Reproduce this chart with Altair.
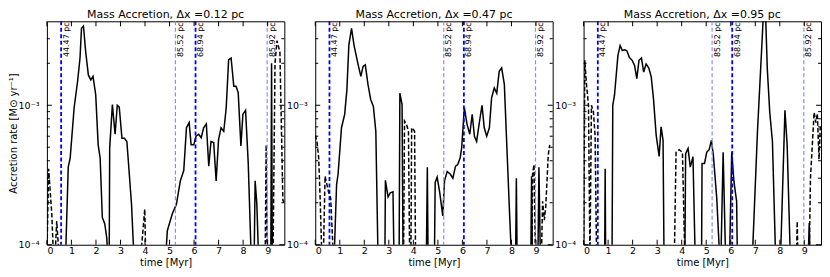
import altair as alt
import pandas as pd

L = 8e-5  # below the plotted range (line leaves the axes)

# ---------------- panel 1 : dx = 0.12 pc ----------------
p1_solid_t = [0.0, 0.76, 0.87, 0.95, 1.11, 1.25, 1.35, 1.41, 1.49, 1.58, 1.69, 1.79, 1.88, 1.99, 2.09, 2.17,
              2.26, 2.36, 2.44, 2.49, 2.54, 2.56, 2.67, 2.78, 2.87, 2.95, 3.06, 3.16, 3.26, 3.36, 3.45, 3.55,
              4.84, 4.91, 5.11, 5.28, 5.44, 5.58, 5.69, 5.80, 5.88, 5.99, 6.08, 6.19, 6.29, 6.39, 6.50, 6.60,
              6.69, 6.80, 6.90, 7.00, 7.10, 7.21, 7.31, 7.41, 7.51, 7.62, 7.71, 7.80, 7.91, 7.99, 8.10, 8.21,
              8.33, 8.45, 8.49, 8.56, 8.63, 9.13, 9.16, 9.19, 9.68]
p1_solid_v = [L, L, 3.6e-4, 4.2e-4, 9.6e-4, 1.48e-3, 2.18e-3, 3.56e-3, 3.7e-3, 2.43e-3, 1.65e-3, 1.52e-3,
              1.61e-3, 1.19e-3, 5.2e-4, 4.2e-4, 1.57e-4, 1.41e-4, 1.12e-4, L, L, 4.95e-4, 1.01e-3, 6.2e-4,
              1.0e-3, 9.7e-4, 5.8e-4, 5.8e-4, 5.5e-4, 3.2e-4, 1.95e-4, L,
              L, 1.26e-4, 1.66e-4, 1.95e-4, 2.87e-4, 3.4e-4, 6.9e-4, 7.5e-4, 5.2e-4, 5.2e-4, 6.0e-4, 6.2e-4,
              5.85e-4, 6.9e-4, 7.35e-4, 3.66e-4, 5.5e-4, 5.4e-4, 2.87e-4, 5.7e-4, 6.9e-4, 6.5e-4, 9.56e-4,
              2.12e-3, 2.18e-3, 1.37e-3, 1.37e-3, 1.23e-3, 5.1e-4, 8.6e-4, 9.2e-4, 3.8e-4,
              L, L, 2.87e-4, 1.95e-4, L, L, 2.0e-3, L, L]
p1_dash_t = [0.0, 0.07, 0.20, 0.27, 0.33, 0.40, 0.50, 3.82, 3.99, 4.03, 8.90, 8.94, 8.98, 9.22, 9.30, 9.38,
             9.45, 9.50, 9.62, 9.66]
p1_dash_v = [L, 3.5e-4, 1.65e-4, L, L, 1.48e-4, L, L, 1.8e-4, L, L, 5.2e-4, L, L, 2.0e-3, 2.9e-3,
             2.6e-3, 2.4e-3, 2.1e-4, 2.0e-4]

# ---------------- panel 2 : dx = 0.47 pc ----------------
p2_solid_t = [0.0, 0.77, 0.87, 0.93, 1.07, 1.20, 1.29, 1.37, 1.48, 1.58, 1.75, 1.86, 1.95, 2.04, 2.15, 2.26,
              2.37, 2.47, 2.56, 2.84, 2.86, 2.97, 3.06, 3.17, 3.21, 3.42, 3.45, 3.54, 3.58, 4.53, 4.57, 4.60,
              4.86, 4.89, 4.97, 5.07, 5.20, 5.27, 5.38, 5.51, 5.61, 5.72, 5.81, 5.91, 5.97, 6.08, 6.19, 6.30,
              6.40, 6.49, 6.58, 6.69, 6.80, 6.89, 6.99, 7.10, 7.19, 7.30, 7.40, 7.50, 7.60, 7.71, 7.82, 7.93,
              8.00, 8.17, 8.20, 8.23, 8.79, 8.82, 8.85, 9.08, 9.12, 9.18, 9.68]
p2_solid_v = [L, L, 2.7e-4, 3.2e-4, 6.9e-4, 8.6e-4, 1.29e-3, 2.7e-3, 3.56e-3, 2.7e-3, 1.95e-3, 1.61e-3,
              1.9e-3, 1.95e-3, 1.41e-3, 1.1e-3, 9.8e-4, 6.5e-4, L, L, 2.9e-4, 2.2e-4, 2.36e-4, 2.4e-4, L,
              L, 1.22e-3, 1.01e-3, L, L, 3.6e-4, L,
              L, 2.8e-4, 3.05e-4, 2.4e-4, 1.61e-4, 2.87e-4, 3.35e-4, 3.2e-4, 3.0e-4, 3.66e-4, 3.76e-4,
              4.2e-4, 4.95e-4, 9.6e-4, 7.3e-4, 6.2e-4, 8.6e-4, 6.0e-4, 5.5e-4, 7.5e-4, 1.0e-3, 6.9e-4,
              6.0e-4, 6.9e-4, 1.13e-3, 1.33e-3, 1.22e-3, 1.75e-3, 1.85e-3, 1.41e-3, 4.7e-4, 1.57e-4,
              L, L, 3.0e-4, L, L, 3.1e-4, L, L, 3.6e-4, L, L]
p2_dash_t = [0.0, 0.07, 0.14, 0.20, 0.27, 0.33, 0.40, 0.54, 0.63, 0.74, 3.60, 3.64, 3.72, 3.80, 3.85, 3.90,
             3.93, 4.00, 4.05, 4.09, 8.84, 8.86, 8.92, 8.98, 9.22, 9.27, 9.34, 9.40, 9.50, 9.56]
p2_dash_v = [6.1e-4, 5.5e-4, 4.2e-4, 2.15e-4, L, L, 3.1e-4, 2.4e-4, 2.15e-4, L, L, 7.7e-4, 7.3e-4, 6.5e-4,
             L, L, 6.9e-4, 6.7e-4, 6.5e-4, L, L, 3.2e-4, 3.76e-4, L, L, 2.05e-4, 1.5e-4, 1.9e-4,
             4.4e-4, 5.2e-4]

# ---------------- panel 3 : dx = 0.95 pc ----------------
p3_solid_t = [0.0, 0.86, 0.88, 0.90, 1.16, 1.19, 1.26, 1.40, 1.49, 1.58, 1.67, 1.76, 1.87, 1.98, 2.08, 2.17,
              2.26, 2.36, 2.45, 2.55, 2.66, 2.76, 2.85, 2.96, 3.08, 3.16, 3.24, 3.28, 4.13, 4.16, 4.26, 4.35,
              4.46, 4.55, 4.81, 4.83, 4.93, 5.02, 5.12, 5.21, 5.29, 5.43, 5.55, 5.60, 5.69, 5.79, 5.95, 6.04,
              6.13, 6.24, 6.27, 6.88, 7.09, 7.15, 7.29, 7.35, 7.42, 7.49, 7.59, 7.70, 7.83, 8.03, 8.21, 8.30,
              8.43, 9.16, 9.20, 9.23, 9.70]
p3_solid_v = [L, L, 3.5e-4, L, L, 1.0e-3, 1.18e-3, 2.28e-3, 2.68e-3, 2.47e-3, 2.5e-3, 2.47e-3, 2.2e-3,
              2.1e-3, 1.93e-3, 1.55e-3, 2.1e-3, 2.18e-3, 1.73e-3, 1.98e-3, 1.85e-3, 1.59e-3, 1.11e-3,
              6.1e-4, 4.3e-4, 7.0e-4, 5.6e-4, L, L, 4.5e-4, 4.9e-4, 3.6e-4,
              4.27e-4, L, L, 3.83e-4, 3.83e-4, 4.6e-4, 4.8e-4, 5.6e-4, 4.4e-4, 2.15e-4, L, L, 4.6e-4, L,
              L, 4.6e-4, 2.83e-4, 2.05e-4, L, L, 6.5e-4, 1.05e-3, 3.2e-3, 5.5e-3, 4.5e-3, 1.83e-3,
              8.9e-4, 5.5e-4, L, L, 9.2e-4, 5.2e-4, L, L, 1.43e-4, L, L]
p3_dash_t = [0.0, 0.05, 0.12, 0.20, 0.26, 0.32, 0.40, 0.47, 0.53, 3.70, 3.77, 3.90, 4.03, 4.13, 8.68, 8.71,
             8.74, 9.20, 9.25, 9.40, 9.47, 9.53, 9.60, 9.65]
p3_dash_v = [L, 2.1e-3, 1.4e-3, 1.0e-3, L, 1.0e-3, 9e-4, 6e-4, L, L, 4.6e-4, 4.8e-4, 4.6e-4, L, L, 1.47e-4,
             L, L, 3.0e-4, 8.9e-4, 7.5e-4, 8.7e-4, 4.1e-4, 7.0e-4]

# ---------------- reference radii (vertical dashed lines) ----------------
mark_t = [0.58, 5.24, 6.06, 8.98]
mark_label = ["44.47 pc", "85.52 pc", "68.94 pc", "85.92 pc"]
mark_kind = ["dark", "light", "dark", "light"]

titles = ["Mass Accretion, \u0394x =0.12 pc", "Mass Accretion, \u0394x =0.47 pc", "Mass Accretion, \u0394x =0.95 pc"]

x_major = list(range(10))
y_major = [1e-4, 1e-3]
y_minor = [2e-4, 3e-4, 4e-4, 5e-4, 6e-4, 7e-4, 8e-4, 9e-4, 2e-3, 3e-3]

W, H = 238, 224
FONT = "DejaVu Sans"
xscale = alt.Scale(domain=[0, 9.68], nice=False, zero=False)
yscale = alt.Scale(type="log", domain=[1e-4, 4e-3], nice=False)


def panel(title, st, sv, dt, dv, ytitle):
    solid = pd.DataFrame({"t": st, "v": sv})
    dashed = pd.DataFrame({"t": dt, "v": dv})
    marks = pd.DataFrame({"t": mark_t, "label": mark_label, "kind": mark_kind})
    xt = pd.DataFrame({"t": x_major})
    ymaj = pd.DataFrame({"v": y_major})
    ymin = pd.DataFrame({"v": y_minor})

    yaxis_kw = dict(values=y_major, labelExpr="datum.value < 5e-4 ? '10\u207b\u2074' : '10\u207b\u00b3'",
                    ticks=False, grid=False, domain=False, labelPadding=8)
    if ytitle:
        yaxis = alt.Axis(title="Accretion rate [M\u2299 yr\u207b\u00b9]", titleX=-28,
                         titleBaseline="bottom", titleAngle=270, **yaxis_kw)
    else:
        yaxis = alt.Axis(title=None, **yaxis_kw)
    xaxis = alt.Axis(values=x_major, ticks=False, grid=False, domain=False, labelPadding=1,
                     title="time [Myr]", titlePadding=2, format="d")

    X = alt.X("t:Q", scale=xscale, axis=xaxis)
    Y = alt.Y("v:Q", scale=yscale, axis=yaxis)

    solid_line = alt.Chart(solid).mark_line(color="black", strokeWidth=1.5, clip=True).encode(
        x=X, y=Y, order="t:Q")
    dashed_line = alt.Chart(dashed).mark_line(color="black", strokeWidth=1.5, strokeDash=[4.5, 2.2],
                                               clip=True).encode(x=X, y=Y, order="t:Q")
    vlines = alt.Chart(marks).mark_rule(strokeDash=[4, 2.5]).encode(
        x=X,
        color=alt.Color("kind:N", scale=alt.Scale(domain=["dark", "light"], range=["#0000ff", "#8a8aff"]),
                        legend=None),
        strokeWidth=alt.StrokeWidth("kind:N", scale=alt.Scale(domain=["dark", "light"], range=[1.8, 1.2]),
                                    legend=None),
    )
    vlabels = alt.Chart(marks).mark_text(angle=270, align="right", baseline="top", fontSize=8, font=FONT,
                                         color="black", dy=1.5).encode(
        x=X, y=alt.value(1), text="label:N")
    xt_bot = alt.Chart(xt).mark_rule(color="black", strokeWidth=1).encode(
        x=X, y=alt.value(H), y2=alt.value(H - 5))
    xt_top = alt.Chart(xt).mark_rule(color="black", strokeWidth=1).encode(
        x=X, y=alt.value(0), y2=alt.value(5))
    ymaj_l = alt.Chart(ymaj).mark_rule(color="black", strokeWidth=1).encode(
        y=Y, x=alt.value(0), x2=alt.value(5))
    ymaj_r = alt.Chart(ymaj).mark_rule(color="black", strokeWidth=1).encode(
        y=Y, x=alt.value(W), x2=alt.value(W - 5))
    ymin_l = alt.Chart(ymin).mark_rule(color="black", strokeWidth=1).encode(
        y=Y, x=alt.value(0), x2=alt.value(3))
    ymin_r = alt.Chart(ymin).mark_rule(color="black", strokeWidth=1).encode(
        y=Y, x=alt.value(W), x2=alt.value(W - 3))

    return alt.layer(solid_line, dashed_line, vlines, vlabels, xt_bot, xt_top,
                     ymaj_l, ymaj_r, ymin_l, ymin_r).properties(
        width=W, height=H,
        title=alt.TitleParams(text=title, fontSize=11, fontWeight="normal", font=FONT, color="black",
                              offset=0, anchor="middle"),
    )


p1 = panel(titles[0], p1_solid_t, p1_solid_v, p1_dash_t, p1_dash_v, True)
p2 = panel(titles[1], p2_solid_t, p2_solid_v, p2_dash_t, p2_dash_v, False)
p3 = panel(titles[2], p3_solid_t, p3_solid_v, p3_dash_t, p3_dash_v, False)

chart = alt.hconcat(p1, p2, p3, spacing=31, bounds="flush").properties(
    padding={"left": 0, "top": 0, "right": 0, "bottom": 0},
    background="white",
).configure_view(stroke="black", strokeWidth=1).configure_axis(
    labelFont=FONT, titleFont=FONT, labelFontSize=9.5, titleFontSize=10, titleFontWeight="normal",
    labelColor="black", titleColor="black",
)

chart.save("out.html", embed_options={"renderer": "svg", "actions": False})
